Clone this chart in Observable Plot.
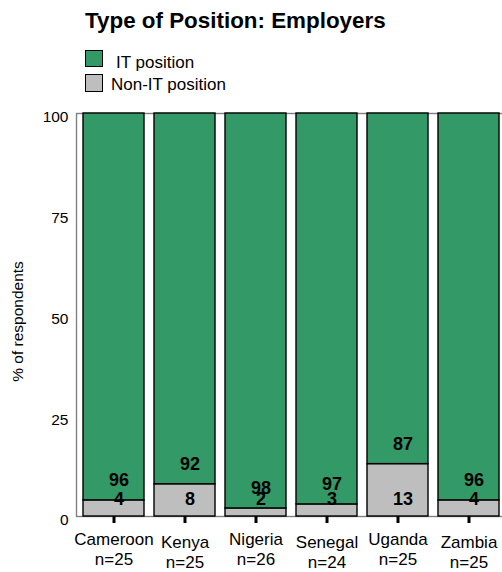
<!DOCTYPE html>
<html>
<head>
<meta charset="utf-8">
<script src="https://cdn.jsdelivr.net/npm/d3@7"></script>
<script src="https://cdn.jsdelivr.net/npm/@observablehq/plot@0.6"></script>
<style>
  body { margin: 0; background: #fff; font-family: "Liberation Sans", Arial, sans-serif; color: #000; }
  #page { position: relative; width: 502px; height: 572px; overflow: hidden; }
  #title { position: absolute; left: 85px; top: 10px; font-size: 22.4px; line-height: 22px; font-weight: bold; white-space: nowrap; }
  .swatch { position: absolute; left: 85px; width: 17.5px; height: 17.5px; box-sizing: border-box; border: 1.2px solid #000; }
  .key { position: absolute; font-size: 17px; line-height: 17px; white-space: nowrap; }
  #chart { position: absolute; left: 0; top: 100px; }
</style>
</head>
<body>
<div id="page">
  <div id="title">Type of Position: Employers</div>
  <div id="legend"></div>
  <div id="chart"></div>
</div>
<script>
// Share of employer respondents by type of position, per country
const countries = ["Cameroon", "Kenya", "Nigeria", "Senegal", "Uganda", "Zambia"];
const sampleSizes = [25, 25, 26, 24, 25, 25];
const itPosition = [96, 92, 98, 97, 87, 96];
const nonItPosition = [4, 8, 2, 3, 13, 4];
const yTicks = [0, 25, 50, 75, 100];
const seriesNames = ["IT position", "Non-IT position"];
const seriesColors = ["#339966", "#bebebe"];

// Long table: non-IT share stacked at the bottom, IT share above it
const rows = countries.flatMap((c, i) => [
  {country: c, type: "Non-IT position", value: nonItPosition[i]},
  {country: c, type: "IT position", value: itPosition[i]}
]);

// Legend
const legend = document.getElementById("legend");
const legendTops = [49.5, 74];
const legendTextTops = [53.6, 75.6];
const legendTextLefts = [116, 111];
seriesNames.forEach((name, i) => {
  const sw = document.createElement("div");
  sw.className = "swatch";
  sw.style.top = legendTops[i] + "px";
  sw.style.background = seriesColors[i];
  legend.appendChild(sw);
  const t = document.createElement("div");
  t.className = "key";
  t.style.top = legendTextTops[i] + "px";
  t.style.left = legendTextLefts[i] + "px";
  t.textContent = name;
  legend.appendChild(t);
});

const sizeOf = new Map(countries.map((c, i) => [c, sampleSizes[i]]));
const tickFormat = (c) => `${c}\nn=${sizeOf.get(c)}`;
const upper = countries.filter((_, i) => i % 2 === 0);
const lower = countries.filter((_, i) => i % 2 === 1);

const chart = Plot.plot({
  width: 502,
  height: 472,
  marginTop: 13,
  marginBottom: 56,
  marginLeft: 76,
  marginRight: -5,
  style: {fontFamily: "Liberation Sans, Arial, sans-serif", fontSize: "15px", color: "#000", background: "transparent"},
  x: {domain: countries, paddingInner: 0.14, paddingOuter: 0.08, label: null},
  y: {domain: [0, 100], label: null},
  color: {domain: seriesNames, range: seriesColors},
  marks: [
    Plot.frame({stroke: "#808080", strokeWidth: 1.4}),
    Plot.barY(rows, {x: "country", y: "value", fill: "type", stroke: "#000", strokeWidth: 1.4}),
    // IT share printed just above the non-IT segment
    Plot.text(countries, {
      x: (d) => d, y: nonItPosition, text: itPosition,
      dx: 5, dy: -20, fontSize: 18, fontWeight: "bold", fill: "#000", lineAnchor: "middle"
    }),
    // Non-IT share printed near the baseline
    Plot.text(countries, {
      x: (d) => d, y: () => 0, text: nonItPosition,
      dx: 5, dy: -17.5, fontSize: 18, fontWeight: "bold", fill: "#000", lineAnchor: "middle"
    }),
    Plot.axisY({ticks: yTicks, tickSize: 0, tickPadding: 8, dy: 4, fontSize: 15.5, label: null}),
    Plot.axisX({ticks: upper, tickFormat, tickSize: 7, strokeWidth: 3, tickPadding: 7, fontSize: 17, lineHeight: 1.18, label: null}),
    Plot.axisX({ticks: lower, tickFormat, tickSize: 7, strokeWidth: 3, tickPadding: 10, fontSize: 17, lineHeight: 1.18, label: null}),
    Plot.text(["% of respondents"], {
      frameAnchor: "left", rotate: -90, dx: -58.5, dy: 6.5,
      fontSize: 15.5, fill: "#000", lineAnchor: "middle", textAnchor: "middle"
    })
  ]
});
document.getElementById("chart").appendChild(chart);
</script>
</body>
</html>
